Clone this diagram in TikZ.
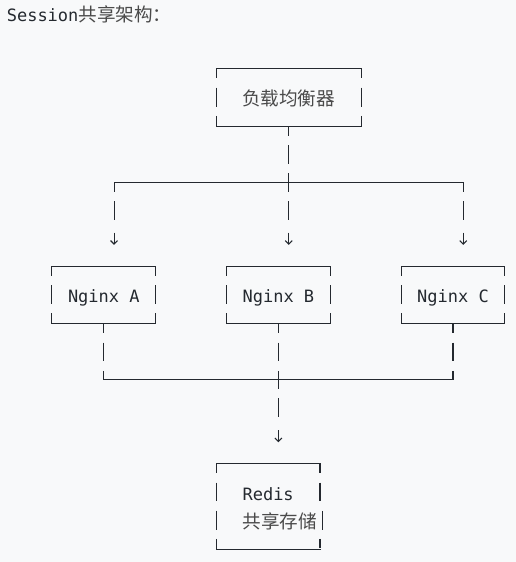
\documentclass[tikz,border=0pt]{standalone}
\usepackage{fontspec}
\setmonofont{DejaVu Sans Mono}
\newfontfamily\cjk{Noto Sans CJK SC}
\usepackage{xcolor}
\usetikzlibrary{arrows.meta}

\definecolor{bgpage}{HTML}{F8F9FA}
\definecolor{ink}{HTML}{24292F}
\definecolor{cjkink}{HTML}{4A4A4A}
\newcommand\rowstrut{\rule[-5pt]{0pt}{25.2pt}}
\newcommand\zh[1]{{\cjk\fontsize{18.6pt}{28.2pt}\selectfont\color{cjkink}#1}}

\begin{document}
\begin{tikzpicture}[x=10.27pt, y=-28.2pt, line width=1.1pt, color=ink,
  font=\ttfamily\fontsize{17pt}{28.2pt}\selectfont,
  vdash/.style={dash pattern=on 18.8pt off 9.4pt, dash phase=9.4pt},
  rskip/.style={dash pattern=on 9.4pt off 9.4pt on 18.8pt off 37.6pt on 9.4pt},
  drop/.style={dash pattern=on 9.4pt off 9.4pt on 18.8pt off 12.8pt on 12.3pt,
    -{Straight Barb[length=3.5pt, width=7pt]}},
  frame/.style={append after command={
    (\tikzlastnode.north west) edge[solid, line cap=rect] (\tikzlastnode.north east)
    (\tikzlastnode.south west) edge[solid, line cap=rect] (\tikzlastnode.south east)
    (\tikzlastnode.north west) edge[vdash] (\tikzlastnode.south west)
    (\tikzlastnode.north east) edge[#1] (\tikzlastnode.south east)}},
  frame/.default=vdash,
  box/.style={inner sep=0pt, minimum width=102.7pt, minimum height=56.4pt}]

\fill[bgpage] (-1.110,-0.4645) rectangle (49.133,19.465);
\useasboundingbox (-1.110,-0.4645) rectangle (49.133,19.465);

\node (title) [anchor=base west, inner sep=0pt] at (-0.5,0.3) {Session\zh{共享架构：}};

\node (lb) [box, frame, minimum width=143.8pt] at (27,3) {\rowstrut\zh{负载均衡器}};

\node (na) [box, frame] at (9,10) {\rowstrut Nginx A};
\node (nb) [box, frame] at (26,10) {\rowstrut Nginx B};
\node (nc) [box, frame] at (43,10) {\rowstrut Nginx C};

\node (rd) [box, frame=rskip, align=left, minimum height=84.6pt] at (25,17.5)
  {\rowstrut Redis\\\rowstrut\rlap{\zh{共享存储}}};
\draw ([shift={(0.26,1.667)}]rd.north east) -- ++(0,0.667);

\coordinate (hub) at (27,6);
\coordinate (forkA) at (10,6);
\coordinate (forkC) at (44,6);
\coordinate (inA) at (10,8.22);
\coordinate (inB) at (27,8.22);
\coordinate (inC) at (44,8.22);
\coordinate (joinA) at (9,13);
\coordinate (joinB) at (26,13);
\coordinate (joinC) at (43,13);
\coordinate (inRd) at (26,15.22);

\draw[vdash] (lb.south) -- (hub);
\draw[line cap=rect] (forkA) -- (forkC);
\draw[drop] (forkA) -- (inA);
\draw[drop] (hub) -- (inB);
\draw[drop] (forkC) -- (inC);

\draw[vdash] (na.south) -- (joinA);
\draw[vdash] (nb.south) -- (joinB);
\draw[vdash] (nc.south) -- (joinC);
\draw[line cap=rect] (joinA) -- (joinC);
\draw[drop] (joinB) -- (inRd);

\end{tikzpicture}
\end{document}
